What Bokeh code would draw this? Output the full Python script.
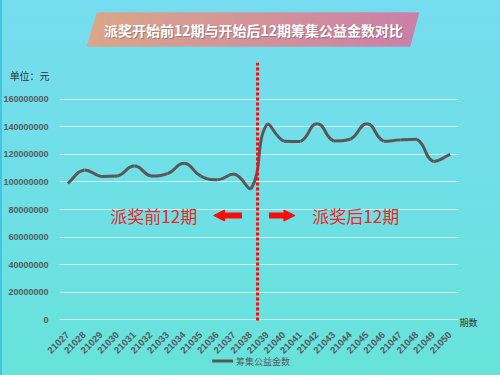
import numpy as np
from bokeh.plotting import figure
from bokeh.models import (Range1d, FixedTicker, BasicTickFormatter, Span, Label, Arrow, NormalHead)
from bokeh.core.properties import value
from bokeh.embed import file_html
from bokeh.resources import INLINE

# ---------------- data ----------------
periods = ["21027", "21028", "21029", "21030", "21031", "21032", "21033", "21034",
           "21035", "21036", "21037", "21038", "21039", "21040", "21041", "21042",
           "21043", "21044", "21045", "21046", "21047", "21048", "21049", "21050"]
amounts = [99.0e6, 108.7e6, 104.0e6, 104.3e6, 111.5e6, 104.3e6, 106.0e6, 113.6e6,
           104.2e6, 101.6e6, 105.7e6, 94.8e6,
           142.2e6, 129.5e6, 129.3e6, 142.2e6, 129.6e6, 131.0e6, 142.2e6, 129.5e6,
           130.5e6, 131.0e6, 114.8e6, 119.9e6]
y_ticks = [0, 20000000, 40000000, 60000000, 80000000, 100000000, 120000000, 140000000, 160000000]
series_name = "筹集公益金数"
title_text = "派奖开始前12期与开始后12期筹集公益金数对比"
unit_text = "单位：元"
xaxis_name = "期数"
before_text = "派奖前12期"
after_text = "派奖后12期"

# ---------------- layout constants ----------------
W, H = 500, 375
FL, FR, FT, FB = 58, 458, 62, 321
Y_START, Y_END = -1.233e6, 186.62e6
X_START, X_END = -0.5, 23.5
CJK = "Noto Sans CJK SC"
SX = (FR - FL) / (X_END - X_START)      # px per x unit
SY = (FB - FT) / (Y_END - Y_START)      # px per y unit
LINE_COLOR = "#585858"


def dx(px):
    return X_START + (px - FL) / SX


def dy(py):
    return Y_START + (FB - py) / SY


p = figure(width=W, height=H, x_range=Range1d(X_START, X_END), y_range=Range1d(Y_START, Y_END),
           output_backend="svg", toolbar_location=None,
           min_border_left=FL, min_border_right=W - FR, min_border_top=FT, min_border_bottom=H - FB)
p.outline_line_color = None
p.background_fill_alpha = 0
p.border_fill_alpha = 0
p.styles = {"background": "linear-gradient(180deg, #76DCEF 0%, #6FDFE6 50%, #67E3DA 100%)",
            "box-shadow": "inset 2px 0 0 #40C6E2"}

# grid
p.xgrid.visible = False
p.ygrid.ticker = FixedTicker(ticks=y_ticks)
p.ygrid.grid_line_color = "#DDF1F4"
p.ygrid.grid_line_alpha = 0.85
p.ygrid.grid_line_width = 1

# y axis
p.yaxis.ticker = FixedTicker(ticks=y_ticks)
p.yaxis.formatter = BasicTickFormatter(use_scientific=False)
p.yaxis.axis_line_color = None
p.yaxis.major_tick_line_color = None
p.yaxis.minor_tick_line_color = None
p.yaxis.major_label_standoff = 5
p.yaxis.major_label_text_font = "Liberation Sans"
p.yaxis.major_label_text_font_size = "9px"
p.yaxis.major_label_text_font_style = "bold"
p.yaxis.major_label_text_color = "#555B60"

# x axis
p.xaxis.ticker = FixedTicker(ticks=list(range(len(periods))))
p.xaxis.major_label_overrides = {i: s for i, s in enumerate(periods)}
p.xaxis.major_label_orientation = np.pi / 4
p.xaxis.axis_line_color = None
p.xaxis.major_tick_line_color = None
p.xaxis.minor_tick_line_color = None
p.xaxis.major_label_standoff = 6
p.xaxis.major_label_text_font = "Liberation Sans"
p.xaxis.major_label_text_font_size = "9.5px"
p.xaxis.major_label_text_font_style = "bold"
p.xaxis.major_label_text_color = "#555B60"

# smooth line through the data (ECharts-like bezier smoothing, computed in pixel space)
px_ = np.arange(len(amounts), dtype=float) * SX
py_ = -np.array(amounts, dtype=float) * SY
n = len(px_)
smooth = 0.5
cpA, cpB = [], []   # control point after / before each point
for i in range(n):
    xp, yp = (px_[i - 1], py_[i - 1]) if i > 0 else (px_[i], py_[i])
    xn, yn = (px_[i + 1], py_[i + 1]) if i < n - 1 else (px_[i], py_[i])
    x, y = px_[i], py_[i]
    vx, vy = xn - xp, yn - yp
    l0 = np.hypot(x - xp, y - yp)
    l1 = np.hypot(xn - x, yn - y)
    r = l1 / (l0 + l1) if (l0 + l1) > 0 else 0.5
    ax_, ay_ = x + vx * smooth * r, y + vy * smooth * r
    bx_, by_ = x - vx * smooth * (1 - r), y - vy * smooth * (1 - r)
    ax_ = min(max(ax_, min(x, xn)), max(x, xn)); ay_ = min(max(ay_, min(y, yn)), max(y, yn))
    bx_ = min(max(bx_, min(x, xp)), max(x, xp)); by_ = min(max(by_, min(y, yp)), max(y, yp))
    cpA.append((ax_ / SX, -ay_ / SY))
    cpB.append((bx_ / SX, -by_ / SY))
xs = list(range(n))
p.bezier(x0=xs[:-1], y0=amounts[:-1], x1=xs[1:], y1=amounts[1:],
         cx0=[c[0] for c in cpA[:-1]], cy0=[c[1] for c in cpA[:-1]],
         cx1=[c[0] for c in cpB[1:]], cy1=[c[1] for c in cpB[1:]],
         line_color=LINE_COLOR, line_width=3)

# divider between the two 12-period blocks
p.add_layout(Span(location=dx(256.5), dimension="height", line_color="#FF0A0A",
                  line_width=3, line_dash="3 2"))

red = "#EE2626"
p.add_layout(Label(x=dx(152.5), y=dy(215), text=before_text, text_align="center",
                   text_baseline="middle", text_font=CJK, text_font_size="17px", text_color=red))
p.add_layout(Label(x=dx(355), y=dy(215), text=after_text, text_align="center",
                   text_baseline="middle", text_font=CJK, text_font_size="17px", text_color=red))
p.add_layout(Arrow(end=NormalHead(size=11, fill_color="#FF0A0A", line_color="#FF0A0A", line_width=1),
                   x_start=dx(241), y_start=dy(215), x_end=dx(212.5), y_end=dy(215),
                   line_color="#FF0A0A", line_width=6))
p.add_layout(Arrow(end=NormalHead(size=11, fill_color="#FF0A0A", line_color="#FF0A0A", line_width=1),
                   x_start=dx(268), y_start=dy(215), x_end=dx(294), y_end=dy(215),
                   line_color="#FF0A0A", line_width=6))

# title banner (parallelogram with horizontal gradient) built from thin slanted strokes
TL, TR, BL, BR, TOP, BOT = 95.7, 418.3, 85.7, 409.3, 12, 46
c0 = np.array([0xDB, 0xA6, 0x8A], dtype=float)
c1 = np.array([0xCB, 0x80, 0xA8], dtype=float)
K = 330
sx0, sy0, sx1, sy1, scol = [], [], [], [], []
for k in range(K):
    t = (k + 0.5) / K
    col = c0 + (c1 - c0) * t
    scol.append("#%02X%02X%02X" % tuple(int(round(v)) for v in col))
    sx0.append(dx(TL + t * (TR - TL))); sy0.append(dy(TOP))
    sx1.append(dx(BL + t * (BR - BL))); sy1.append(dy(BOT))
p.segment(x0=sx0, y0=sy0, x1=sx1, y1=sy1, line_color=scol, line_width=1.6,
          line_cap="butt", level="overlay")

p.text(x=[dx(253.5)], y=[dy(30)], text=[title_text], text_align="center", text_baseline="middle",
       text_font=value(CJK), text_font_size="14px", text_font_style="bold",
       text_color="#6A4A5A", text_alpha=0.45, level="overlay")
p.text(x=[dx(252.5)], y=[dy(29)], text=[title_text], text_align="center", text_baseline="middle",
       text_font=value(CJK), text_font_size="14px", text_font_style="bold",
       text_color="white", level="overlay")

# unit & axis name
p.text(x=[dx(8)], y=[dy(75)], text=[unit_text], text_align="left", text_baseline="middle",
       text_font=value(CJK), text_font_size="10px", text_color="#333333", level="overlay")
p.text(x=[dx(468)], y=[dy(322)], text=[xaxis_name], text_align="center", text_baseline="middle",
       text_font=value(CJK), text_font_size="9px", text_color="#333333", level="overlay")

# legend (series swatch + name) below the axis
p.segment(x0=[dx(211)], y0=[dy(360.5)], x1=[dx(232)], y1=[dy(360.5)],
          line_color=LINE_COLOR, line_width=3, level="overlay")
p.text(x=[dx(235)], y=[dy(360.5)], text=[series_name], text_align="left", text_baseline="middle",
       text_font=value(CJK), text_font_size="9px", text_color="#555B60", level="overlay")

open("out.html", "w").write(file_html(p, INLINE))
